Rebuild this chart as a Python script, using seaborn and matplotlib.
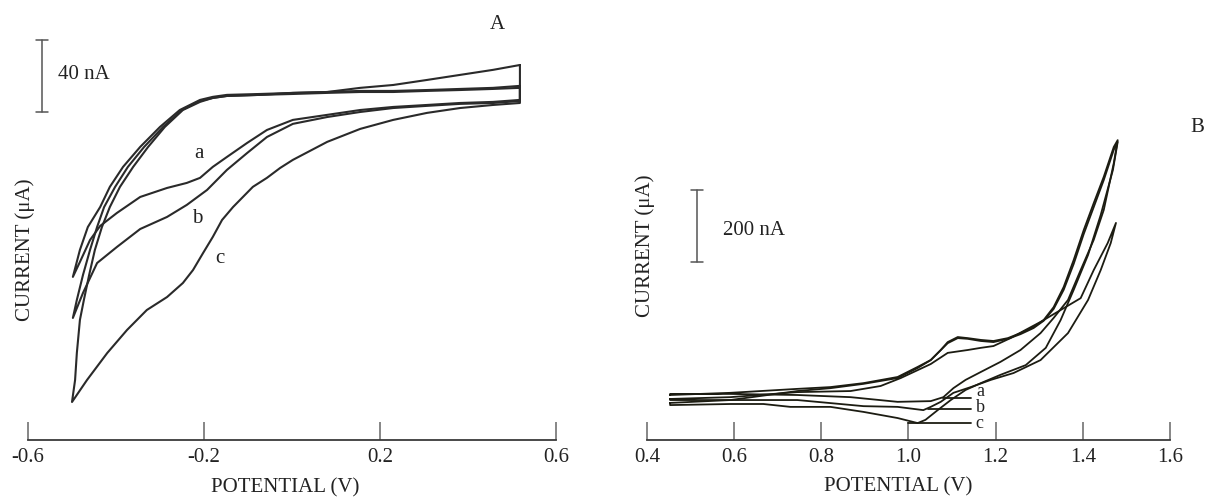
import matplotlib
matplotlib.use("Agg")
import matplotlib.pyplot as plt
import seaborn as sns

# ---------------- Panel A data (potential V, current nA, arbitrary offset) ----------------
A_a_E = [0.518, 0.457, 0.382, 0.307, 0.230, 0.155, 0.080, 0.002, -0.073, -0.148, -0.180, -0.209,
         -0.255, -0.300, -0.345, -0.384, -0.414, -0.436, -0.464, -0.482, -0.498,
         -0.482, -0.459, -0.436, -0.398, -0.345, -0.284, -0.239, -0.209, -0.180, -0.148, -0.102,
         -0.057, 0.002, 0.080, 0.155, 0.230, 0.307, 0.382, 0.457, 0.518, 0.518]
A_a_I = [196.7, 195.6, 195.0, 194.4, 193.9, 193.9, 193.3, 192.8, 192.2, 191.7, 190.6, 188.9,
         183.3, 173.9, 162.8, 151.7, 140.6, 129.4, 118.3, 105.6, 90.6,
         98.9, 111.1, 118.9, 126.1, 135.0, 140.0, 142.8, 145.6, 151.7, 157.2, 165.0,
         172.2, 177.8, 180.6, 183.3, 185.0, 186.1, 187.2, 187.8, 188.9, 196.7]

A_b_E = [0.518, 0.457, 0.382, 0.307, 0.230, 0.155, 0.080, 0.002, -0.073, -0.148, -0.180, -0.209,
         -0.250, -0.293, -0.336, -0.373, -0.402, -0.427, -0.443, -0.459, -0.475, -0.489, -0.498,
         -0.475, -0.443, -0.398, -0.345, -0.284, -0.239, -0.193, -0.148, -0.102, -0.057, 0.002,
         0.080, 0.155, 0.230, 0.307, 0.382, 0.457, 0.518, 0.518]
A_b_I = [195.6, 195.0, 194.4, 193.9, 193.3, 193.3, 192.8, 192.2, 191.7, 191.1, 190.0, 188.3,
         183.3, 173.9, 162.8, 151.7, 140.6, 129.4, 118.3, 105.6, 91.7, 77.8, 67.8,
         81.7, 98.3, 107.2, 117.2, 123.9, 130.6, 138.9, 150.0, 159.4, 168.3, 175.6,
         179.4, 182.2, 184.4, 185.6, 186.7, 187.2, 188.3, 195.6]

A_c_E = [0.518, 0.457, 0.382, 0.307, 0.230, 0.155, 0.080, 0.002, -0.073, -0.148, -0.180, -0.209,
         -0.248, -0.289, -0.327, -0.361, -0.391, -0.414, -0.432, -0.448, -0.461, -0.473, -0.482,
         -0.489, -0.493, -0.500,
         -0.466, -0.420, -0.375, -0.330, -0.284, -0.248, -0.225, -0.202, -0.180, -0.159, -0.134,
         -0.089, -0.057, -0.027, 0.002, 0.080, 0.155, 0.230, 0.307, 0.382, 0.457, 0.518, 0.518]
A_c_I = [208.3, 205.6, 202.8, 200.0, 197.2, 195.6, 193.3, 192.8, 191.7, 191.1, 190.0, 187.8,
         183.3, 173.9, 162.8, 151.7, 140.6, 129.4, 118.3, 105.6, 91.7, 77.8, 66.7,
         48.3, 33.3, 21.1,
         33.3, 48.3, 61.1, 72.2, 79.4, 87.2, 94.4, 103.9, 112.8, 122.2, 129.4,
         140.6, 145.6, 151.1, 155.6, 165.6, 172.8, 177.8, 181.7, 184.4, 186.1, 187.2, 208.3]

A_ticks = [-0.6, -0.2, 0.2, 0.6]
A_ticklabels = ["-0.6", "-0.2", "0.2", "0.6"]
A_curve_labels = ["a", "b", "c"]
A_label_E = [-0.211, -0.216, -0.164]
A_label_I = [158.9, 123.3, 100.6]

# ---------------- Panel B data ----------------
B_a_E = [0.453, 0.591, 0.745, 0.821, 0.897, 0.975, 1.021, 1.051, 1.074, 1.090, 1.113, 1.136, 1.166,
         1.195, 1.228, 1.257, 1.287, 1.310, 1.333, 1.356, 1.379, 1.402, 1.425, 1.448, 1.471, 1.480,
         1.471, 1.448, 1.425, 1.395, 1.366, 1.333, 1.303, 1.257, 1.211, 1.166, 1.131, 1.103, 1.080,
         1.051, 0.975, 0.867, 0.745, 0.591, 0.453, 0.453]
B_a_I = [125, 131, 142, 147, 158, 175, 203, 222, 250, 272, 286, 283, 278,
         275, 283, 297, 314, 333, 369, 425, 500, 583, 658, 731, 814, 833,
         769, 639, 556, 472, 389, 339, 297, 250, 217, 189, 167, 144, 119,
         108, 106, 119, 125, 128, 128, 125]

B_b_E = [0.453, 0.591, 0.745, 0.867, 0.936, 0.982, 1.051, 1.090, 1.136, 1.166, 1.195, 1.234, 1.269,
         1.303, 1.349, 1.395, 1.425, 1.457, 1.476,
         1.464, 1.441, 1.412, 1.366, 1.303, 1.241, 1.189, 1.143, 1.103, 1.074, 1.051, 1.034,
         0.975, 0.897, 0.745, 0.591, 0.453, 0.453]
B_b_I = [114, 119, 133, 136, 150, 172, 211, 242, 250, 256, 261, 283, 306,
         328, 361, 394, 472, 547, 603,
         547, 472, 389, 297, 222, 186, 167, 147, 131, 106, 92, 83,
         92, 94, 111, 111, 111, 114]

B_c_E = [0.453, 0.591, 0.745, 0.821, 0.897, 0.975, 1.021, 1.051, 1.090, 1.113, 1.136, 1.166, 1.195,
         1.228, 1.257, 1.287, 1.310, 1.333, 1.356, 1.379, 1.402, 1.425, 1.448, 1.471, 1.480,
         1.469, 1.441, 1.412, 1.379, 1.349, 1.315, 1.269, 1.211, 1.166, 1.131, 1.097, 1.067,
         1.039, 1.021, 0.975, 0.897, 0.821, 0.729, 0.667, 0.591, 0.453, 0.453]
B_c_I = [103, 111, 136, 144, 156, 172, 200, 222, 269, 283, 281, 275, 272,
         281, 294, 311, 331, 364, 417, 489, 572, 647, 722, 806, 828,
         750, 625, 514, 417, 333, 256, 208, 181, 158, 139, 111, 83,
         56, 47, 61, 78, 92, 92, 100, 100, 97, 103]

B_ticks = [0.4, 0.6, 0.8, 1.0, 1.2, 1.4, 1.6]
B_ticklabels = ["0.4", "0.6", "0.8", "1.0", "1.2", "1.4", "1.6"]
B_curve_labels = ["a", "b", "c"]
B_leader_start = [1.080, 1.044, 0.998]
B_leader_end = [1.143, 1.143, 1.143]
B_leader_I = [117, 86, 47]
B_label_E = [1.166, 1.166, 1.162]
B_label_I = [134, 90, 46]

# ---------------- Styling ----------------
sns.set_theme(style="white")
plt.rcParams["font.family"] = ["Liberation Serif", "DejaVu Serif"]

FS = 15
TXT = "#222222"
LINE_A = "#2a2a2a"
LINE_B = "#1c1c12"

fig = plt.figure(figsize=(12.06, 5.0), dpi=100)
fig.patch.set_facecolor("white")
axA = fig.add_axes([28 / 1206, 60 / 500, 528 / 1206, 440 / 500])
axB = fig.add_axes([647 / 1206, 60 / 500, 523 / 1206, 440 / 500])


def style_axis(ax, ticks, ticklabels, xlim, ylim):
    ax.set_facecolor("none")
    ax.set_xlim(*xlim)
    ax.set_ylim(*ylim)
    for s in ["left", "right", "top"]:
        ax.spines[s].set_visible(False)
    ax.spines["bottom"].set_color("#3a3a3a")
    ax.spines["bottom"].set_linewidth(1.3)
    ax.set_yticks([])
    ax.set_xticks(ticks)
    ax.set_xticklabels(ticklabels)
    ax.tick_params(axis="x", direction="in", length=13, width=1.1, color="#666666",
                   labelsize=FS, labelcolor=TXT, pad=6, bottom=True)
    ax.grid(False)


# ---------- Panel A ----------
for E, I in [(A_a_E, A_a_I), (A_b_E, A_b_I), (A_c_E, A_c_I)]:
    sns.lineplot(x=E, y=I, sort=False, estimator=None, ax=axA, color=LINE_A, lw=1.5)
style_axis(axA, A_ticks, A_ticklabels, (-0.6, 0.6), (0, 244.4))
for lab, e, i in zip(A_curve_labels, A_label_E, A_label_I):
    axA.text(e, i, lab, fontsize=FS, color=TXT, ha="center", va="center")
# scale bar 40 nA
axA.plot([-0.568, -0.568], [182.2, 222.2], color="#555555", lw=1.1)
axA.plot([-0.582, -0.554], [222.2, 222.2], color="#555555", lw=1.1)
axA.plot([-0.582, -0.554], [182.2, 182.2], color="#555555", lw=1.1)
axA.text(-0.531, 202.8, "40 nA", fontsize=FS, color=TXT, ha="left", va="center")
axA.text(0.466, 231, "A", fontsize=FS, color=TXT, ha="center", va="center")
axA.set_xlabel("POTENTIAL (V)", fontsize=FS, color=TXT, va="center")
axA.xaxis.set_label_coords(0.487, -0.109)
axA.set_ylabel("CURRENT (\u03bcA)", fontsize=FS, color=TXT, va="center")
axA.yaxis.set_label_coords(-0.006, 0.432)

# ---------- Panel B ----------
for E, I in [(B_a_E, B_a_I), (B_b_E, B_b_I), (B_c_E, B_c_I)]:
    sns.lineplot(x=E, y=I, sort=False, estimator=None, ax=axB, color=LINE_B, lw=1.3)
style_axis(axB, B_ticks, B_ticklabels, (0.4, 1.6), (0, 1222.2))
for lab, x0, x1, iy, e, i in zip(B_curve_labels, B_leader_start, B_leader_end, B_leader_I,
                                 B_label_E, B_label_I):
    axB.plot([x0, x1], [iy, iy], color=LINE_B, lw=1.3)
    axB.text(e, i, lab, fontsize=13, color=TXT, ha="center", va="center")
# scale bar 200 nA
axB.plot([0.515, 0.515], [494, 694], color="#555555", lw=1.1)
axB.plot([0.501, 0.529], [694, 694], color="#555555", lw=1.1)
axB.plot([0.501, 0.529], [494, 494], color="#555555", lw=1.1)
axB.text(0.575, 583, "200 nA", fontsize=FS, color=TXT, ha="left", va="center")
axB.set_xlabel("POTENTIAL (V)", fontsize=FS, color=TXT, va="center")
axB.xaxis.set_label_coords(0.48, -0.107)
axB.set_ylabel("CURRENT (\u03bcA)", fontsize=FS, color=TXT, va="center")
axB.yaxis.set_label_coords(-0.004, 0.441)
fig.text(1197 / 1206, 1 - 127 / 500, "B", fontsize=FS, color=TXT, ha="center", va="center")

fig.savefig("out.png", dpi=100, facecolor="white")
